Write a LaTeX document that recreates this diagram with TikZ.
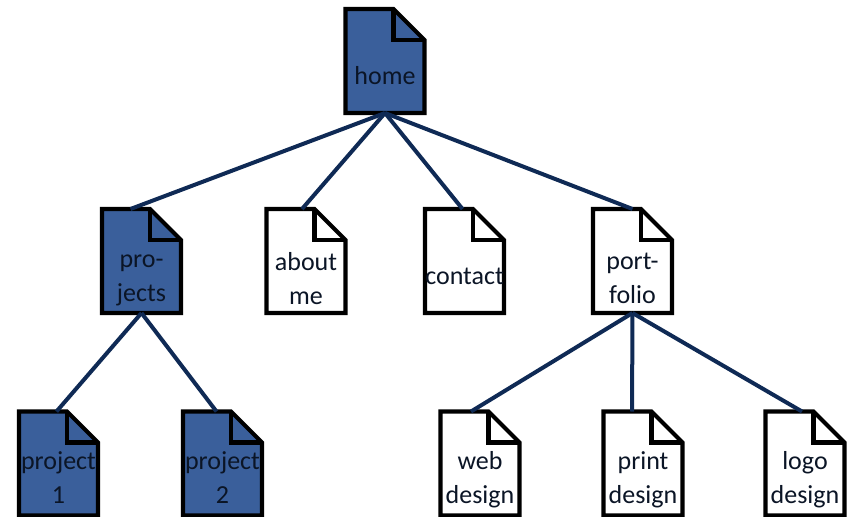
\documentclass[tikz,border=0pt]{standalone}
\usepackage{fontspec}
\setmainfont{Carlito}
\definecolor{blu}{HTML}{3A5F9B}
\definecolor{lin}{HTML}{0F2A55}
\definecolor{ink}{HTML}{0B1526}
\tikzset{x=1pt,y=-1pt,
 link/.style={draw=lin,line width=4pt},
 docbox/.style={rectangle,minimum width=79pt,minimum height=104pt,inner sep=0pt,outer sep=0pt},
 doctext/.style={font=\fontsize{26}{34}\selectfont,align=center,text=ink,inner sep=0pt,outer sep=0pt,text depth=0pt},
}
% #1 name, #2 centre x, #3 centre y, #4 fill, #5 text offset downwards, #6 text
\newcommand{\docnode}[6]{%
 \node[docbox] (#1) at (#2,#3) {};
 \draw[line width=4.2pt,miter limit=10,fill=#4]
   (#1.north west) -- ([xshift=-31pt]#1.north east) -- ([yshift=-31pt]#1.north east)
   -- (#1.south east) -- (#1.south west) -- cycle;
 \draw[line width=4.2pt] ([xshift=-31pt]#1.north east) -- ([xshift=-31pt,yshift=-31pt]#1.north east) -- ([yshift=-31pt]#1.north east);
 \node[doctext,anchor=center] (#1-label) at ([yshift=-#5pt]#1.center) {#6};
}
\begin{document}
\begin{tikzpicture}
\useasboundingbox (0,0) rectangle (850,516);
\docnode{home}{385}{61}{blu}{14}{home}
\docnode{projects}{141.5}{261}{blu}{17}{pro-\\jects}
\docnode{about}{306}{261}{white}{17}{about\\me}
\docnode{contact}{464.5}{261}{white}{15}{contact}
\docnode{portfolio}{632.5}{261}{white}{17}{port-\\folio}
\docnode{projectA}{58.5}{463.5}{blu}{14}{project\\1}
\docnode{projectB}{222.5}{463.5}{blu}{14}{project\\2}
\docnode{web}{480}{463.5}{white}{14}{web\\design}
\docnode{print}{643}{463.5}{white}{14}{print\\design}
\docnode{logo}{805}{463.5}{white}{14}{logo\\design}
\draw[link] (home.south) -- ([xshift=-11pt]projects.north);
\draw[link] (home.south) -- ([xshift=-4pt]about.north);
\draw[link] (home.south) -- ([xshift=-2pt]contact.north);
\draw[link] (home.south) -- (portfolio.north);
\draw[link] (projects.south) -- ([xshift=-2pt]projectA.north);
\draw[link] (projects.south) -- ([xshift=-6pt]projectB.north);
\draw[link] (portfolio.south) -- ([xshift=-9pt]web.north);
\draw[link] (portfolio.south) -- ([xshift=-11pt]print.north);
\draw[link] (portfolio.south) -- ([xshift=-3pt]logo.north);
\end{tikzpicture}
\end{document}
